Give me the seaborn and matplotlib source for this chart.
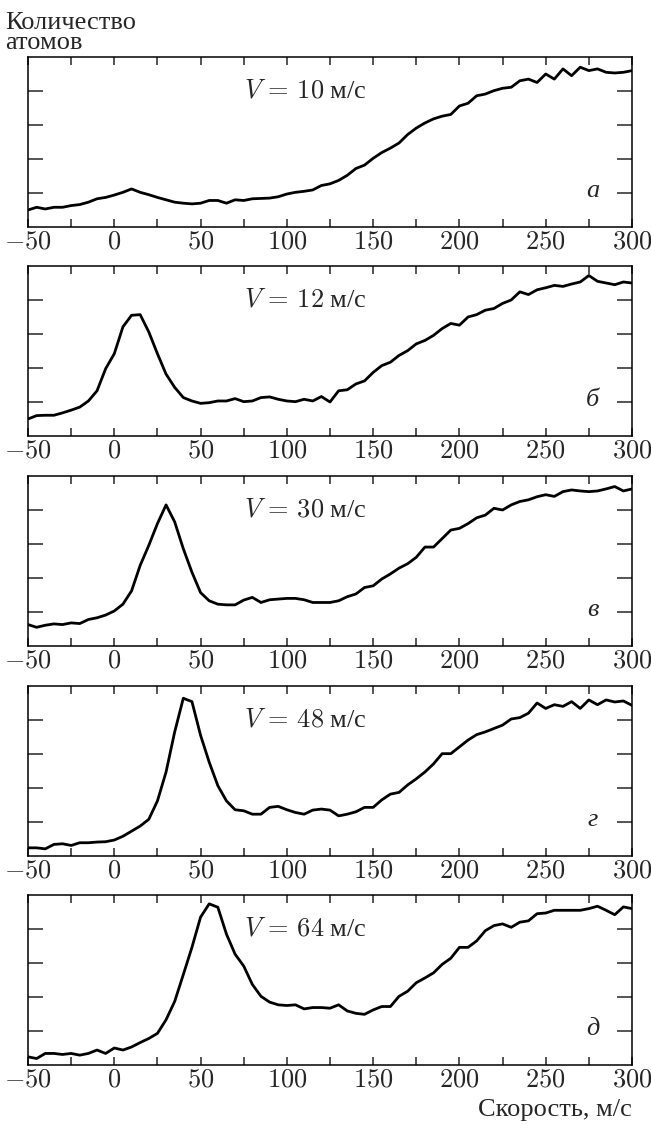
import numpy as np
import pandas as pd
import matplotlib
matplotlib.use("Agg")
import matplotlib.pyplot as plt
import seaborn as sns

# скорость, м/с (общая сетка для всех панелей)
speed = list(range(-50, 301, 5))

counts_a = [0.50, 0.58, 0.53, 0.58, 0.58, 0.63, 0.66, 0.73, 0.83, 0.87,
            0.94, 1.02, 1.12, 1.02, 0.95, 0.87, 0.80, 0.73, 0.70, 0.68,
            0.70, 0.78, 0.78, 0.70, 0.80, 0.78, 0.83, 0.84, 0.85, 0.89,
            0.97, 1.02, 1.05, 1.09, 1.22, 1.27, 1.37, 1.52, 1.72, 1.82,
            2.02, 2.19, 2.32, 2.47, 2.72, 2.91, 3.06, 3.18, 3.26, 3.31,
            3.56, 3.64, 3.86, 3.91, 4.01, 4.08, 4.11, 4.30, 4.35, 4.25,
            4.50, 4.35, 4.65, 4.45, 4.70, 4.60, 4.65, 4.55, 4.53, 4.55, 4.60]

counts_b = [0.50, 0.60, 0.61, 0.61, 0.68, 0.76, 0.85, 1.03, 1.33, 1.98,
            2.42, 3.21, 3.55, 3.57, 3.06, 2.42, 1.82, 1.43, 1.13, 1.03,
            0.96, 0.98, 1.03, 1.03, 1.10, 1.01, 1.03, 1.13, 1.15, 1.08,
            1.03, 1.01, 1.08, 1.03, 1.16, 1.00, 1.33, 1.36, 1.53, 1.62,
            1.87, 2.07, 2.17, 2.37, 2.51, 2.71, 2.81, 2.96, 3.16, 3.31,
            3.26, 3.50, 3.57, 3.70, 3.75, 3.90, 4.00, 4.24, 4.16, 4.30,
            4.36, 4.43, 4.40, 4.47, 4.53, 4.72, 4.55, 4.50, 4.45, 4.53, 4.50]

counts_c = [0.63, 0.55, 0.61, 0.65, 0.63, 0.68, 0.66, 0.78, 0.83, 0.91,
            1.03, 1.23, 1.62, 2.37, 2.96, 3.60, 4.15, 3.65, 2.86, 2.17,
            1.57, 1.33, 1.23, 1.21, 1.21, 1.35, 1.43, 1.28, 1.36, 1.38,
            1.40, 1.40, 1.36, 1.28, 1.28, 1.28, 1.33, 1.45, 1.53, 1.72,
            1.77, 1.97, 2.12, 2.29, 2.42, 2.61, 2.91, 2.91, 3.16, 3.41,
            3.46, 3.60, 3.77, 3.85, 4.05, 4.00, 4.15, 4.25, 4.30, 4.39,
            4.45, 4.40, 4.54, 4.59, 4.56, 4.54, 4.56, 4.62, 4.69, 4.56, 4.62]

counts_d = [0.24, 0.24, 0.21, 0.34, 0.36, 0.31, 0.39, 0.39, 0.41, 0.42,
            0.47, 0.58, 0.73, 0.88, 1.08, 1.62, 2.47, 3.65, 4.64, 4.54,
            3.55, 2.76, 2.07, 1.62, 1.36, 1.33, 1.23, 1.23, 1.43, 1.46,
            1.36, 1.28, 1.23, 1.35, 1.38, 1.35, 1.18, 1.23, 1.30, 1.43,
            1.43, 1.65, 1.82, 1.87, 2.09, 2.27, 2.47, 2.71, 3.01, 3.01,
            3.21, 3.41, 3.57, 3.65, 3.75, 3.85, 4.03, 4.07, 4.20, 4.50,
            4.34, 4.45, 4.40, 4.54, 4.34, 4.59, 4.45, 4.59, 4.53, 4.56, 4.43]

counts_e = [0.24, 0.19, 0.34, 0.34, 0.31, 0.34, 0.29, 0.34, 0.44, 0.34,
            0.50, 0.44, 0.53, 0.66, 0.78, 0.93, 1.33, 1.87, 2.66, 3.46,
            4.35, 4.74, 4.64, 3.85, 3.26, 2.91, 2.37, 2.02, 1.85, 1.77,
            1.75, 1.77, 1.65, 1.69, 1.69, 1.67, 1.77, 1.59, 1.52, 1.49,
            1.62, 1.72, 1.72, 2.02, 2.17, 2.42, 2.56, 2.71, 2.96, 3.14,
            3.46, 3.46, 3.65, 3.95, 4.10, 4.15, 4.05, 4.20, 4.24, 4.45,
            4.47, 4.55, 4.55, 4.55, 4.55, 4.60, 4.67, 4.55, 4.42, 4.65, 4.60]

series = [counts_a, counts_b, counts_c, counts_d, counts_e]
beam_speed = ["10", "12", "30", "48", "64"]
panel_letters = ["а", "б", "в", "г", "д"]
x_ticks = [-50, 0, 50, 100, 150, 200, 250, 300]

sns.set_style("ticks")
plt.rcParams["font.family"] = ["Liberation Serif", "DejaVu Serif"]
plt.rcParams["mathtext.fontset"] = "cm"

W, H = 651, 1124
fig = plt.figure(figsize=(W / 100, H / 100), dpi=100)

left, right = 28, 632
tops = [57, 266, 476, 686, 895]
ph = 170

for i, vals in enumerate(series):
    ax = fig.add_axes([left / W, 1 - (tops[i] + ph) / H, (right - left) / W, ph / H])
    df = pd.DataFrame({"speed": speed, "count": vals})
    sns.lineplot(data=df, x="speed", y="count", ax=ax, color="black", lw=2.0)
    ax.set_xlim(-50, 300)
    ax.set_ylim(0, 5)
    ax.set_xlabel("")
    ax.set_ylabel("")
    ax.set_xticks(x_ticks)
    ax.set_xticks(np.arange(-25, 300, 50), minor=True)
    ax.set_xticklabels(["$%d$" % t if t >= 0 else "$-%d$" % abs(t) for t in x_ticks],
                       fontsize=19)
    ax.set_yticks([1, 2, 3, 4])
    ax.set_yticklabels([])
    ax.tick_params(axis="x", which="both", direction="in", top=True, bottom=True,
                   length=6, width=1.1, pad=3)
    ax.tick_params(axis="y", direction="in", left=True, right=True, length=11, width=1.1)
    for s in ax.spines.values():
        s.set_visible(True)
        s.set_linewidth(1.1)
        s.set_color("black")
    ax.text(0.357, 0.80, "$V\\,=\\,%s$ м/с" % beam_speed[i], transform=ax.transAxes,
            fontsize=19, ha="left", va="center")
    ax.text(0.935, 0.21, panel_letters[i], transform=ax.transAxes, fontsize=19,
            style="italic", ha="center", va="center")

fig.text(5 / W, 1 - 33 / H, "Количество\nатомов", fontsize=19, ha="left", va="center",
         linespacing=0.85)
fig.text(right / W, 1 - 1110 / H, "Скорость, м/с", fontsize=19, ha="right", va="center")

fig.savefig("out.png", dpi=100)
